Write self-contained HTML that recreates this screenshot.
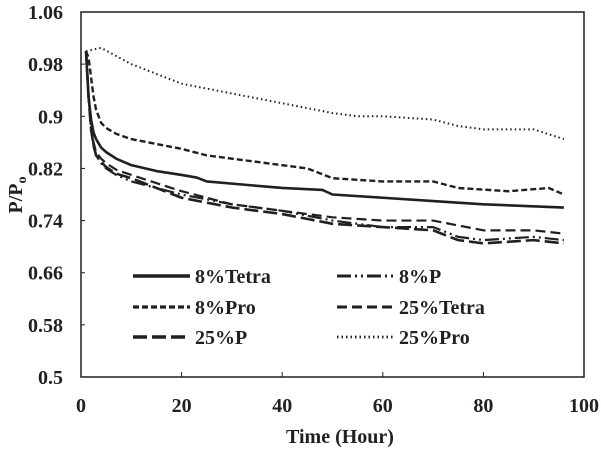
<!DOCTYPE html>
<html><head><meta charset="utf-8"><style>
body{margin:0;background:#fff}
svg text{font-family:"Liberation Serif",serif;font-weight:bold;fill:#231f20}
</style></head><body>
<svg width="601" height="448" viewBox="0 0 601 448">
<g id="plot"></g>
</svg>
<script>
const yTicks=[0.5,0.58,0.66,0.74,0.82,0.9,0.98,1.06];
const xTicks=[0,20,40,60,80,100];
const t8Tetra=[1,1.5,2,2.5,3,4,5,7,10,15,20,23,25,40,48,50,60,70,80,96];
const v8Tetra=[1.0,0.93,0.895,0.875,0.865,0.852,0.845,0.835,0.825,0.816,0.81,0.806,0.80,0.79,0.787,0.78,0.775,0.77,0.765,0.76];
const t8Pro=[1,1.5,2,2.5,3,4,5,7,10,20,25,40,45,50,60,70,75,85,93,96];
const v8Pro=[1.0,0.99,0.96,0.93,0.91,0.89,0.882,0.873,0.865,0.85,0.84,0.825,0.82,0.805,0.8,0.8,0.79,0.785,0.79,0.78];
const t25Pro=[1,4,10,20,30,40,50,55,60,70,75,80,90,96];
const v25Pro=[1.0,1.005,0.98,0.95,0.935,0.92,0.905,0.9,0.9,0.895,0.885,0.88,0.88,0.865];
const t8P=[1,1.5,2,2.5,3,4,5,7,10,20,30,40,50,60,70,75,80,90,96];
const v8P=[1.0,0.93,0.88,0.855,0.84,0.828,0.82,0.81,0.80,0.78,0.765,0.755,0.74,0.73,0.73,0.715,0.71,0.715,0.71];
const t25Tetra=[1,1.5,2,2.5,3,4,5,7,10,20,30,40,50,60,70,80,90,96];
const v25Tetra=[1.0,0.93,0.885,0.86,0.845,0.835,0.828,0.818,0.81,0.785,0.765,0.755,0.745,0.74,0.74,0.725,0.725,0.72];
const t25P=[1,1.5,2,2.5,3,4,5,7,10,20,30,40,50,60,70,75,80,90,96];
const v25P=[1.0,0.93,0.88,0.855,0.84,0.83,0.822,0.812,0.805,0.775,0.76,0.75,0.735,0.73,0.725,0.71,0.705,0.71,0.705];
const X0=81,X1=584,Y0=377,Y1=12;
const sx=v=>X0+(v-0)/(100-0)*(X1-X0);
const sy=v=>Y0-(v-0.5)/(1.06-0.5)*(Y0-Y1);
const NS='http://www.w3.org/2000/svg';
const g=document.getElementById('plot');
function mk(tag,at,txt){const e=document.createElementNS(NS,tag);for(const k in at)e.setAttribute(k,at[k]);if(txt!=null)e.textContent=txt;g.appendChild(e);return e;}
let e=mk('rect',{x:X0,y:Y1,width:X1-X0,height:Y0-Y1,fill:'none',stroke:'#231f20','stroke-width':1.5});


yTicks.forEach(v=>{
 let l=mk('line',{x1:X0,x2:X0+4,y1:sy(v),y2:sy(v),stroke:'#231f20','stroke-width':1});
 
 
 let t=mk('text',{x:X0-18,y:sy(v)+7,'text-anchor':'end','font-size':20},String(v));
 
 
});
xTicks.forEach(v=>{
 let l=mk('line',{x1:sx(v),x2:sx(v),y1:Y0,y2:Y0-5,stroke:'#231f20','stroke-width':1});
 
 
 let t=mk('text',{x:sx(v),y:412,'text-anchor':'middle','font-size':20},String(v));
 
 
});
const series=[
 {n:'8%Tetra',t:t8Tetra,v:v8Tetra,d:'',w:2.6,lx:133,ly:276},
 {n:'8%Pro',t:t8Pro,v:v8Pro,d:'6,3',w:2.4,lx:133,ly:307},
 {n:'25%P',t:t25P,v:v25P,d:'14,5',w:2.6,lx:133,ly:337},
 {n:'8%P',t:t8P,v:v8P,d:'14,4,2,4,2,4',w:2.2,lx:337,ly:276},
 {n:'25%Tetra',t:t25Tetra,v:v25Tetra,d:'10,5',w:2.2,lx:337,ly:307},
 {n:'25%Pro',t:t25Pro,v:v25Pro,d:'1.5,3',w:2,lx:337,ly:337}
];
series.forEach(s=>{
 let p=mk('polyline',{points:s.t.map((t,i)=>sx(t)+','+sy(s.v[i])).join(' '),fill:'none',stroke:'#231f20','stroke-width':s.w,'stroke-dasharray':s.d,'stroke-linejoin':'round'});
 
 
 let l=mk('line',{x1:s.lx,x2:s.lx+57,y1:s.ly,y2:s.ly,stroke:'#231f20','stroke-width':s.w+0.8,'stroke-dasharray':s.d});
 
 
 let t=mk('text',{x:s.lx+62,y:s.ly+7,'font-size':20},s.n);
 
 
});
let xt=mk('text',{x:340,y:443,'text-anchor':'middle','font-size':20},'Time (Hour)');


let yt=mk('text',{transform:'translate(22,195) rotate(-90)','text-anchor':'middle','font-size':20},'');
yt.innerHTML='P/P<tspan font-size="14" dy="4">o</tspan>';


</script>
</body></html>
